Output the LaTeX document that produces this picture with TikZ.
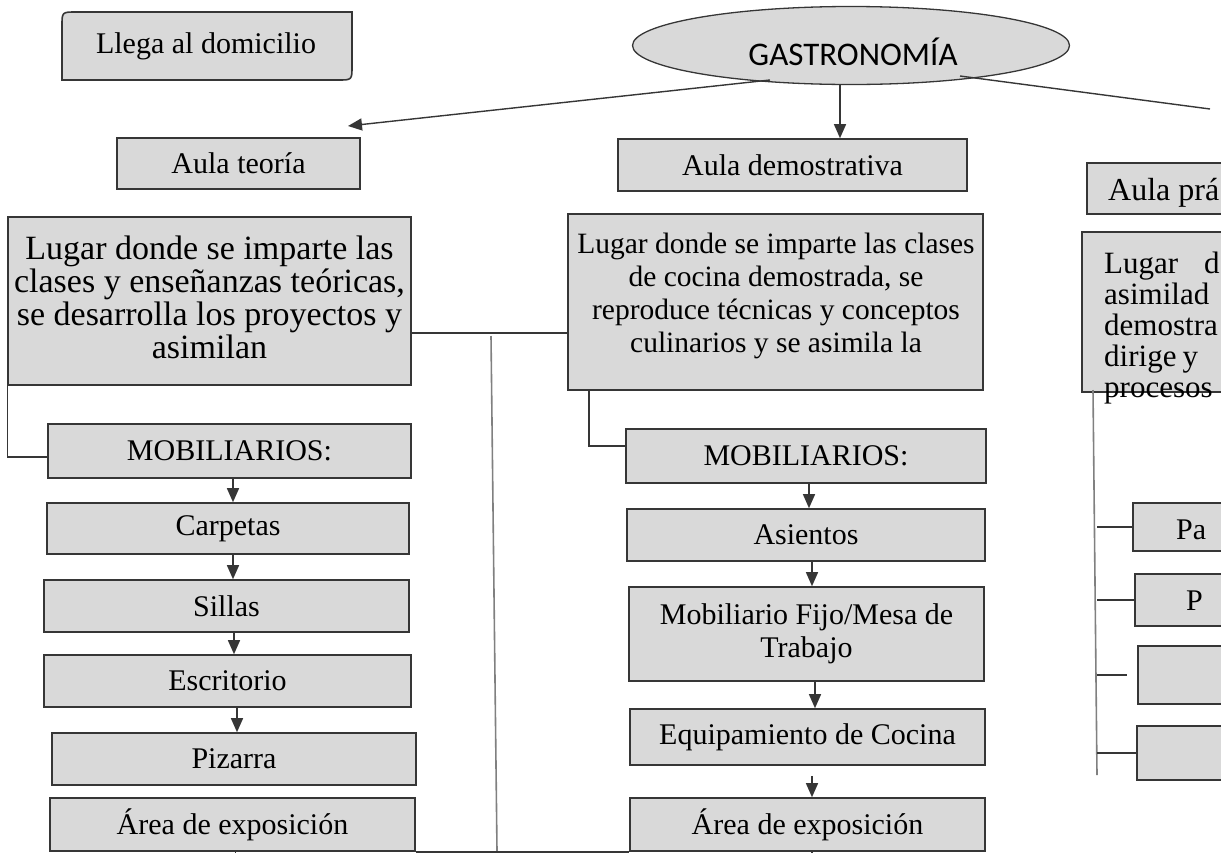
\documentclass[tikz,border=0pt]{standalone}
\usepackage{fontspec}
\setmainfont{Liberation Serif}
\newfontfamily\calib{Carlito}
\usetikzlibrary{shapes.geometric,arrows.meta}
\definecolor{boxfill}{HTML}{D9D9D9}
\definecolor{edge}{HTML}{363636}
\definecolor{lgrey}{HTML}{808080}
\begin{document}
\begin{tikzpicture}[x=1pt,y=-1pt,
  box/.style={draw=edge, fill=boxfill, line width=1.6pt, inner sep=0pt, align=center, font=\fontsize{30}{33}\selectfont},
  plain/.style={inner sep=0pt, align=center, font=\fontsize{30}{33}\selectfont},
  conn/.style={draw=edge, line width=1.4pt},
  gline/.style={draw=lgrey, line width=1.6pt},
  arr/.style={conn, -{Triangle[width=12pt,length=14pt]}}]
\useasboundingbox (0,0) rectangle (1221,852);
\clip (0,0) rectangle (1221,852);

% Llega al domicilio (rounded top-left and bottom-right)
\draw[draw=edge, fill=boxfill, line width=1.6pt]
  (62,80) -- (62,26) .. controls (62,12) .. (76,12) -- (352,12) -- (352,66)
  .. controls (352,80) .. (338,80) -- cycle;
\node[plain] (llega) at (206,46) {Llega al domicilio};

% GASTRONOMIA
\node[ellipse, draw=edge, fill=boxfill, line width=1.3pt, minimum width=437pt, minimum height=78pt, inner sep=0pt] (g) at (851,45.5) {};
\node[inner sep=0pt, font=\calib\fontsize{33}{35}\selectfont] (gt) at (853,52) {GASTRONOMÍA};
\coordinate (gL) at (770,80);
\coordinate (gM) at (840,84);
\coordinate (gR) at (960,76);
\coordinate (tipL) at (348,126);
\coordinate (endR) at (1210,109);

% column headers
\node[box, minimum width=243pt, minimum height=51pt] (aulat) at (238.5,163.5) {Aula teoría};
\node[box, minimum width=349pt, minimum height=52pt] (aulad) at (792.5,165) {Aula demostrativa};
\node[box, minimum width=243pt, minimum height=51pt] (aulap) at (1208.5,188.5) {};
\node[plain, anchor=west, font=\fontsize{32}{33}\selectfont] (aulapt) at (1108,193) {Aula prá};

% description boxes
\node[box, minimum width=403pt, minimum height=168pt] (ldesc) at (209.5,301) {};
\node[plain, font=\fontsize{34}{33}\selectfont] (ldesct) at (209.5,297) {Lugar donde se imparte las\\clases y enseñanzas teóricas,\\se desarrolla los proyectos y\\asimilan};
\node[box, minimum width=415pt, minimum height=176pt] (mdesc) at (775.5,302) {};
\node[plain, font=\fontsize{29.5}{33}\selectfont] (mdesct) at (776,296) {Lugar donde se imparte las clases\\de cocina demostrada, se\\reproduce técnicas y conceptos\\culinarios y se asimila la};
\node[box, minimum width=248pt, minimum height=160pt] (rdesc) at (1206,312) {};
\node[plain, anchor=north west, align=left, font=\fontsize{31}{31}\selectfont] (rdesct) at (1104,252) {Lugar\hspace{26pt}d\\asimilad\\demostra\\dirige\hspace{6pt}y\\procesos};

% left column
\node[box, minimum width=363pt, minimum height=54pt] (lmob) at (229.5,451) {MOBILIARIOS:};
\node[box, minimum width=362pt, minimum height=51pt] (carp) at (228,528.5) {Carpetas};
\node[box, minimum width=365pt, minimum height=52pt] (sillas) at (226.5,606) {Sillas};
\node[box, minimum width=367pt, minimum height=52pt] (escr) at (227.5,681) {Escritorio};
\node[box, minimum width=364pt, minimum height=52pt] (piz) at (234,759) {Pizarra};
\node[box, minimum width=365pt, minimum height=53pt] (lexp) at (232.5,824.5) {Área de exposición};

% middle column
\node[box, minimum width=360pt, minimum height=54pt] (mmob) at (806,456) {MOBILIARIOS:};
\node[box, minimum width=358pt, minimum height=52pt] (asien) at (806,535) {Asientos};
\node[box, minimum width=355pt, minimum height=94pt] (mfijo) at (806.5,634) {Mobiliario Fijo/Mesa de\\Trabajo};
\node[box, minimum width=355pt, minimum height=56pt] (equip) at (807.5,737) {Equipamiento de Cocina};
\node[box, minimum width=355pt, minimum height=53pt] (mexp) at (807.5,824.5) {Área de exposición};

% right column
\node[box, minimum width=197pt, minimum height=48pt] (rb1) at (1231.5,527) {};
\node[plain, anchor=west] (rb1t) at (1176,530) {Pa};
\node[box, minimum width=197pt, minimum height=52pt] (rb2) at (1233.5,600) {};
\node[plain, anchor=west] (rb2t) at (1186,601) {P};
\node[box, minimum width=197pt, minimum height=58pt] (rb3) at (1236.5,675) {};
\node[box, minimum width=197pt, minimum height=54pt] (rb4) at (1235.5,753) {};

% connectors from GASTRONOMIA
\draw[arr] (gL) -- (tipL);
\draw[arr] (gM) -- (gM |- aulad.north);
\draw[conn] (gR) -- (endR);

% left column connectors
\coordinate (ax) at (233,0);
\draw[conn] (ldesc.south west) |- ([yshift=-6pt]lmob.west);
\draw[arr] (lmob.south -| ax) -- (carp.north -| ax);
\draw[arr] (carp.south -| ax) -- (sillas.north -| ax);
\draw[arr] ([xshift=1pt]sillas.south -| ax) -- ([xshift=1pt]escr.north -| ax);
\draw[arr] ([xshift=4pt]escr.south -| ax) -- ([xshift=4pt]piz.north -| ax);
\draw[conn] ([xshift=3pt]lexp.south) -- ++(0,8);

% cross links
\coordinate (hl) at (0,333);
\draw[conn] (ldesc.east |- hl) -- (mdesc.west |- hl);
\coordinate (v1) at (491,336);
\coordinate (v2) at (497,851);
\draw[gline] (v1) -- (v2);
\draw[conn] (lexp.south east) -- (mexp.south west);

% middle column connectors
\coordinate (mc) at (589,0);
\coordinate (bx) at (812,0);
\draw[conn] (mdesc.south -| mc) |- ([yshift=10pt]mmob.west);
\draw[arr] ([xshift=-3pt]mmob.south -| bx) -- ([xshift=-3pt]asien.north -| bx);
\draw[arr] (asien.south -| bx) -- (mfijo.north -| bx);
\draw[arr] ([xshift=3pt]mfijo.south -| bx) -- ([xshift=3pt]equip.north -| bx);
\draw[arr] ([yshift=-10pt]equip.south -| bx) -- (mexp.north -| bx);
\draw[conn] (mexp.south -| bx) -- ++(0,8);

% right column connectors
\coordinate (r1) at (1093,390);
\coordinate (r2) at (1097,775);
\draw[gline] (r1) -- (r2);
\draw[conn] (rb1.west -| r2) -- (rb1.west);
\draw[conn] (rb2.west -| r2) -- (rb2.west);
\draw[conn] (rb3.west -| r2) -- ([xshift=-10pt]rb3.west);
\draw[conn] (rb4.west -| r2) -- (rb4.west);
\end{tikzpicture}
\end{document}
